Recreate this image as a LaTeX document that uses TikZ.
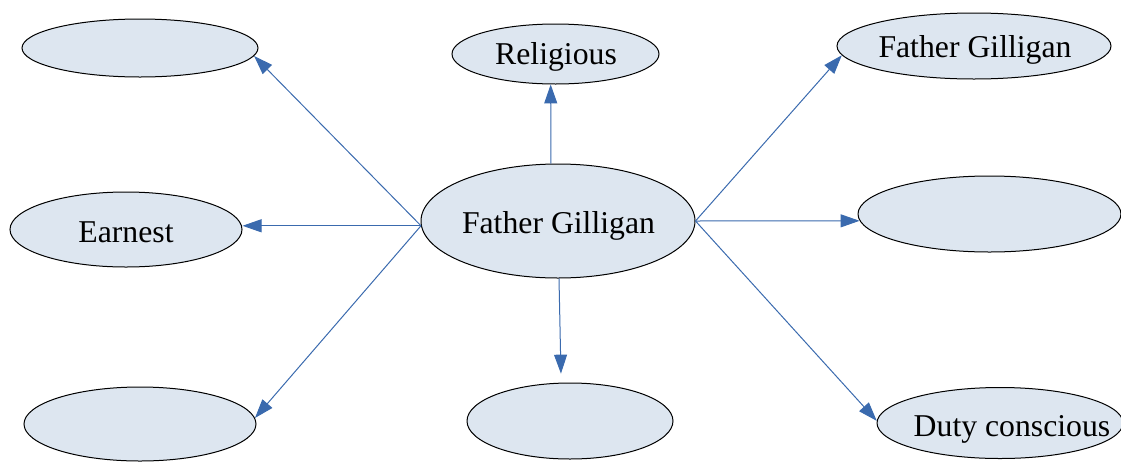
\documentclass[tikz,border=0pt]{standalone}
\usepackage{fontspec}
\setmainfont{Liberation Serif}
\usetikzlibrary{shapes.geometric,arrows.meta}
\definecolor{ellfill}{HTML}{DDE6F0}
\definecolor{arrowblue}{HTML}{3A6AAE}
\begin{document}
\begin{tikzpicture}[x=0.75pt,y=-0.75pt,
  ell/.style={ellipse,draw=black,line width=0.75pt,fill=ellfill,inner sep=0pt},
  lbl/.style={anchor=base,inner sep=0pt,font=\fontsize{23.8}{28}\selectfont},
  conn/.style={draw=arrowblue,line width=0.75pt,-{Triangle[length=14.25pt,width=9.75pt]}}]
\useasboundingbox (0,0) rectangle (1121,461);
% ellipses
\node[ell,minimum width=177pt,minimum height=43.5pt] (tl) at (140,48) {};
\node[ell,minimum width=155.25pt,minimum height=45pt] (rel) at (555.5,54) {};
\node[ell,minimum width=205.5pt,minimum height=49.5pt] (tr) at (974,46) {};
\node[ell,minimum width=174pt,minimum height=56.25pt] (ea) at (126,229.5) {};
\node[ell,minimum width=205.5pt,minimum height=85.5pt] (c) at (558,221) {};
\node[ell,minimum width=197.25pt,minimum height=57pt] (rm) at (989.5,214) {};
\node[ell,minimum width=174pt,minimum height=55.5pt] (bl) at (140,424) {};
\node[ell,minimum width=154.5pt,minimum height=57pt] (bm) at (570,421) {};
\node[ell,minimum width=184.5pt,minimum height=53.25pt] (du) at (1000,423) {};
% labels
\node[lbl] (tRel) at (556,64) {Religious};
\node[lbl] (tTr) at (975,57) {Father Gilligan};
\node[lbl] (tEa) at (126,242) {Earnest};
\node[lbl] (tC) at (558.5,233) {Father Gilligan};
\node[lbl] (tDu) at (1012,436) {Duty conscious};
% connectors
\coordinate (cl) at (c.182.5);
\draw[conn] (cl) -- (tl.-4.4);
\draw[conn] (cl) -- (cl -| ea.east);
\draw[conn] (cl) -- (bl.3.9);
\draw[conn] (c.97) -- (rel.261.5);
\draw[conn,shorten >=6.75pt] (c.271) -- (bm.103);
\draw[conn] (c.east) -- (tr.184);
\draw[conn] (c.east) -- (rm.183.5);
\draw[conn] (c.east) -- (du.179.5);
\end{tikzpicture}
\end{document}
